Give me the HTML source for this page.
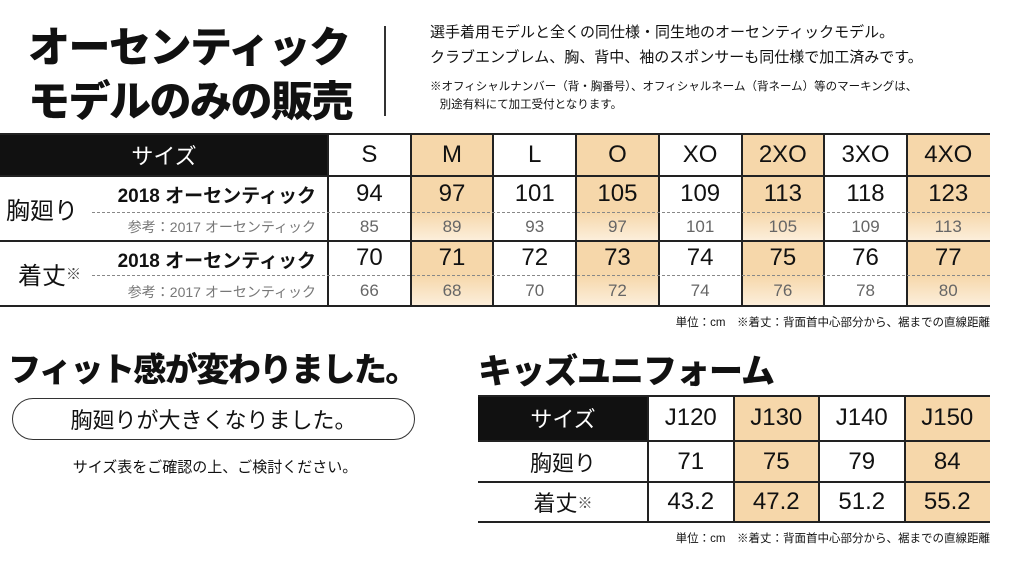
<!DOCTYPE html>
<html><head><meta charset="utf-8">
<style>
body{margin:0;width:1024px;height:569px;background:#fff;position:relative;overflow:hidden;font-family:"Liberation Sans","Noto Sans CJK JP",sans-serif;color:#111}
.a{position:absolute}
.c{position:absolute;display:flex;align-items:center;justify-content:center;box-sizing:border-box}
.hl{background:#f6d7aa}
.hl2{background:linear-gradient(#f6d7aa,#fcefdc)}
.dash{position:absolute;border-top:1px dashed #888;height:0}
.sm{font-size:15px;color:#444}
</style></head><body>
<div class="a" style="left:28px;top:14px;font-size:42px;font-weight:900;letter-spacing:-1.5px">オーセンティック</div>
<div class="a" style="left:28px;top:68px;font-size:42px;font-weight:900;letter-spacing:-1.5px">モデルのみの販売</div>
<div class="a" style="left:384px;top:26px;width:2px;height:90px;background:#333"></div>
<div class="a" style="left:430px;top:20px;font-size:15px;line-height:25px">選手着用モデルと全くの同仕様・同生地のオーセンティックモデル。<br>クラブエンブレム、胸、背中、袖のスポンサーも同仕様で加工済みです。</div>
<div class="a" style="left:430px;top:78px;font-size:11.5px;line-height:18px">※オフィシャルナンバー（背・胸番号）、オフィシャルネーム（背ネーム）等のマーキングは、<br>&nbsp;&nbsp;&nbsp;別途有料にて加工受付となります。</div>

<div id="main"></div>
<div id="kids"></div>

<div class="a" style="right:34px;top:314px;font-size:11.5px">単位：cm　※着丈：背面首中心部分から、裾までの直線距離</div>
<div class="a" style="left:8px;top:343px;font-size:33px;font-weight:900;letter-spacing:-1.5px">フィット感が変わりました。</div>
<div class="c" style="left:12px;top:398px;width:403px;height:42px;border:1.5px solid #333;border-radius:21px;font-size:22px">胸廻りが大きくなりました。</div>
<div class="a" style="left:0;width:430px;text-align:center;top:456px;font-size:15px">サイズ表をご確認の上、ご検討ください。</div>
<div class="a" style="left:478px;top:344px;font-size:34px;font-weight:900;letter-spacing:-1px">キッズユニフォーム</div>
<div class="a" style="right:34px;top:530px;font-size:11.5px">単位：cm　※着丈：背面首中心部分から、裾までの直線距離</div>

<script>
const sizes=["S","M","L","O","XO","2XO","3XO","4XO"];
const chest2018=[94,97,101,105,109,113,118,123];
const chest2017=[85,89,93,97,101,105,109,113];
const len2018=[70,71,72,73,74,75,76,77];
const len2017=[66,68,70,72,74,76,78,80];
const kidSizes=["J120","J130","J140","J150"];
const kidChest=["71","75","79","84"];
const kidLen=["43.2","47.2","51.2","55.2"];

function cell(parent,x,y,w,h,txt,style,cls,name){
  const d=document.createElement('div');
  d.className='c '+(cls||'');
  d.style.cssText=`left:${x}px;top:${y}px;width:${w}px;height:${h}px;`+(style||'');
  d.textContent=txt;
  
  
  parent.appendChild(d);return d;
}
const M=document.getElementById('main');
const x0=328,cw=82.7,T0=133;
cell(M,0,T0,x0,43,'サイズ','background:#111;color:#fff;font-size:22px','','size-header');
cell(M,0,176,95,65,'胸廻り','font-size:24px;justify-content:flex-start;padding-left:6px','','chest-label');
const ll=cell(M,0,241,95,65,'着丈','font-size:24px;justify-content:flex-start;padding-left:18px','','length-label');
ll.innerHTML='着丈<span class="sm">※</span>';
[[176,'chest'],[241,'length']].forEach(([y,n])=>{
  cell(M,92,y,236,36,'2018 オーセンティック','font-size:19px;font-weight:bold;justify-content:flex-end;padding-right:12px','',n+'-2018-label');
  cell(M,92,y+36,236,29,'参考：2017 オーセンティック','font-size:14px;color:#777;justify-content:flex-end;padding-right:12px','',n+'-2017-label');
});
sizes.forEach((s,i)=>{
  const x=x0+i*cw,h=i%2==1;
  cell(M,x,T0,cw,43,s,'font-size:24px',h?'hl':'','size-'+s);
  cell(M,x,176,cw,36,chest2018[i],'font-size:24px',h?'hl':'','chest-2018-'+s);
  cell(M,x,212,cw,29,chest2017[i],'font-size:17px;color:#666',h?'hl2':'','chest-2017-'+s);
  cell(M,x,241,cw,34,len2018[i],'font-size:24px',h?'hl':'','length-2018-'+s);
  cell(M,x,275,cw,31,len2017[i],'font-size:17px;color:#666',h?'hl2':'','length-2017-'+s);
  const v=document.createElement('div');v.className='a';
  v.style.cssText=`left:${x-1}px;top:${T0}px;width:2px;height:173px;background:#222`;
  
  
  M.appendChild(v);
});
const xe=x0+8*cw;
[133,175,240,305].forEach(y=>{
  const l=document.createElement('div');l.className='a';
  l.style.cssText=`left:0;top:${y}px;width:${xe}px;height:2px;background:#222`;
  
  
  M.appendChild(l);
});
[212,275].forEach(y=>{
  const l=document.createElement('div');l.className='dash';
  l.style.cssText=`left:92px;top:${y}px;width:${xe-92}px`;
  
  
  M.appendChild(l);
});

const K=document.getElementById('kids');
const kx=478,kc=648,kw=85.5;
cell(K,kx,395,kc-kx,46,'サイズ','background:#111;color:#fff;font-size:22px','','kids-size-header');
cell(K,kx,441,kc-kx,41,'胸廻り','font-size:22px','','kids-chest-label');
const kl=cell(K,kx,482,kc-kx,40,'着丈','font-size:22px','','kids-length-label');
kl.innerHTML='着丈<span class="sm">※</span>';
kidSizes.forEach((s,i)=>{
  const x=kc+i*kw,h=i%2==1;
  cell(K,x,395,kw,46,s,'font-size:24px',h?'hl':'','kids-size-'+s);
  cell(K,x,441,kw,41,kidChest[i],'font-size:24px',h?'hl':'','kids-chest-'+s);
  cell(K,x,482,kw,40,kidLen[i],'font-size:24px',h?'hl':'','kids-length-'+s);
  const v=document.createElement('div');v.className='a';
  v.style.cssText=`left:${x-1}px;top:395px;width:2px;height:127px;background:#222`;
  
  
  K.appendChild(v);
});
const ke=kc+4*kw;
[395,440,481,521].forEach(y=>{
  const l=document.createElement('div');l.className='a';
  l.style.cssText=`left:${kx}px;top:${y}px;width:${ke-kx}px;height:2px;background:#222`;
  
  
  K.appendChild(l);
});
</script>
</body></html>
